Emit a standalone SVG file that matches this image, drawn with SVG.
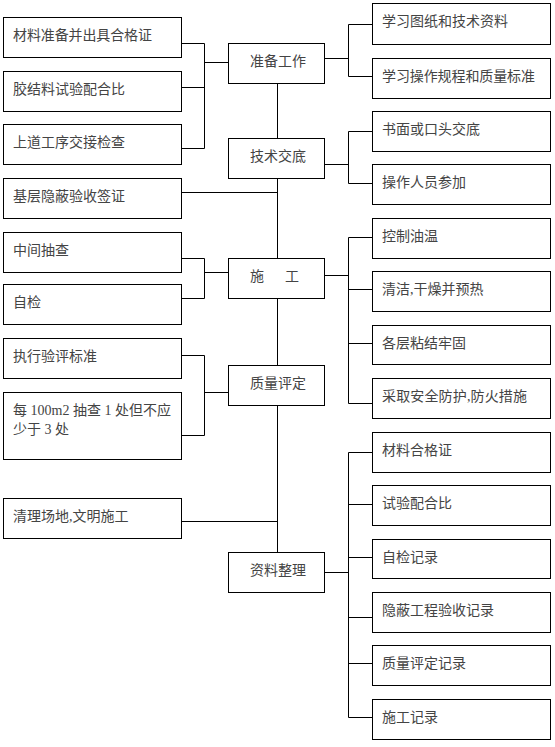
<svg xmlns="http://www.w3.org/2000/svg" width="555" height="747" viewBox="0 0 555 747">
<style>
rect{fill:#fff;stroke:#000;stroke-width:1}
text{font-family:"Liberation Serif","Noto Sans CJK SC",serif;font-size:14px;fill:#444}
.c line,.c polyline{stroke:#000;stroke-width:1;fill:none}
</style>
<rect x="0" y="0" width="555" height="747" style="stroke:none"/>
<g class="c" id="connectors">
<line x1="277.5" y1="83" x2="277.5" y2="138"/>
<line x1="277.5" y1="178" x2="277.5" y2="258"/>
<line x1="277.5" y1="298" x2="277.5" y2="365"/>
<line x1="277.5" y1="405" x2="277.5" y2="552"/>
<polyline points="181,43.5 204.5,43.5 204.5,148.5 181,148.5"/>
<line x1="181" y1="87.5" x2="204.5" y2="87.5"/>
<line x1="204.5" y1="62.5" x2="228" y2="62.5"/>
<line x1="181" y1="192.5" x2="277.5" y2="192.5"/>
<polyline points="181,258.5 204.5,258.5 204.5,298.5 181,298.5"/>
<line x1="204.5" y1="272.5" x2="228" y2="272.5"/>
<polyline points="181,355.5 204.5,355.5 204.5,435.5 181,435.5"/>
<line x1="204.5" y1="392.5" x2="228" y2="392.5"/>
<line x1="181" y1="521.5" x2="277.5" y2="521.5"/>
<polyline points="372,24.5 348.5,24.5 348.5,76.5 372,76.5"/>
<line x1="324" y1="58.5" x2="348.5" y2="58.5"/>
<polyline points="372,131.5 348.5,131.5 348.5,183.5 372,183.5"/>
<line x1="324" y1="164.5" x2="348.5" y2="164.5"/>
<polyline points="372,237.5 348.5,237.5 348.5,403.5 372,403.5"/>
<line x1="348.5" y1="289.5" x2="372" y2="289.5"/>
<line x1="348.5" y1="343.5" x2="372" y2="343.5"/>
<line x1="324" y1="275.5" x2="348.5" y2="275.5"/>
<polyline points="372,452.5 348.5,452.5 348.5,717.5 372,717.5"/>
<line x1="348.5" y1="504.5" x2="372" y2="504.5"/>
<line x1="348.5" y1="557.5" x2="372" y2="557.5"/>
<line x1="348.5" y1="617.5" x2="372" y2="617.5"/>
<line x1="348.5" y1="663.5" x2="372" y2="663.5"/>
<line x1="324" y1="572.5" x2="348.5" y2="572.5"/>
</g>
<g id="c1"><rect x="228.5" y="43.5" width="96" height="40"/><text x="250" y="66">准备工作</text></g>
<g id="c2"><rect x="228.5" y="138.5" width="96" height="40"/><text x="250" y="161">技术交底</text></g>
<g id="c3"><rect x="228.5" y="258.5" width="96" height="40"/><text x="250" y="281">施<tspan x="285">工</tspan></text></g>
<g id="c4"><rect x="228.5" y="365.5" width="96" height="40"/><text x="250" y="388">质量评定</text></g>
<g id="c5"><rect x="228.5" y="552.5" width="96" height="40"/><text x="250" y="575">资料整理</text></g>
<g id="l1"><rect x="3.5" y="17.5" width="178" height="40"/><text x="13" y="40" textLength="139" lengthAdjust="spacing">材料准备并出具合格证</text></g>
<g id="l2"><rect x="3.5" y="71.5" width="178" height="40"/><text x="13" y="94">胶结料试验配合比</text></g>
<g id="l3"><rect x="3.5" y="124.5" width="178" height="40"/><text x="13" y="147">上道工序交接检查</text></g>
<g id="l4"><rect x="3.5" y="178.5" width="178" height="40"/><text x="13" y="201">基层隐蔽验收签证</text></g>
<g id="l5"><rect x="3.5" y="232.5" width="178" height="40"/><text x="13" y="255">中间抽查</text></g>
<g id="l6"><rect x="3.5" y="284.5" width="178" height="40"/><text x="13" y="307">自检</text></g>
<g id="l7"><rect x="3.5" y="338.5" width="178" height="40"/><text x="13" y="361">执行验评标准</text></g>
<g id="l8"><rect x="3.5" y="392.5" width="178" height="67"/><text x="13" y="415">每 100m2 抽查 1 处但不应</text><text x="13" y="434">少于 3 处</text></g>
<g id="l9"><rect x="3.5" y="498.5" width="178" height="40"/><text x="13" y="521">清理场地,文明施工</text></g>
<g id="r1"><rect x="372.5" y="3.5" width="178" height="41"/><text x="382" y="26">学习图纸和技术资料</text></g>
<g id="r2"><rect x="372.5" y="58.5" width="178" height="40"/><text x="382" y="81" textLength="153" lengthAdjust="spacing">学习操作规程和质量标准</text></g>
<g id="r3"><rect x="372.5" y="111.5" width="178" height="40"/><text x="382" y="134">书面或口头交底</text></g>
<g id="r4"><rect x="372.5" y="164.5" width="178" height="40"/><text x="382" y="187">操作人员参加</text></g>
<g id="r5"><rect x="372.5" y="218.5" width="178" height="40"/><text x="382" y="241">控制油温</text></g>
<g id="r6"><rect x="372.5" y="271.5" width="178" height="40"/><text x="382" y="294">清洁,干燥并预热</text></g>
<g id="r7"><rect x="372.5" y="325.5" width="178" height="39"/><text x="382" y="348">各层粘结牢固</text></g>
<g id="r8"><rect x="372.5" y="378.5" width="178" height="40"/><text x="382" y="401" textLength="145" lengthAdjust="spacing">采取安全防护,防火措施</text></g>
<g id="r9"><rect x="372.5" y="432.5" width="178" height="40"/><text x="382" y="455">材料合格证</text></g>
<g id="r10"><rect x="372.5" y="485.5" width="178" height="40"/><text x="382" y="508">试验配合比</text></g>
<g id="r11"><rect x="372.5" y="539.5" width="178" height="39"/><text x="382" y="562">自检记录</text></g>
<g id="r12"><rect x="372.5" y="592.5" width="178" height="40"/><text x="382" y="615">隐蔽工程验收记录</text></g>
<g id="r13"><rect x="372.5" y="645.5" width="178" height="40"/><text x="382" y="668">质量评定记录</text></g>
<g id="r14"><rect x="372.5" y="699.5" width="178" height="40"/><text x="382" y="722">施工记录</text></g>
</svg>
